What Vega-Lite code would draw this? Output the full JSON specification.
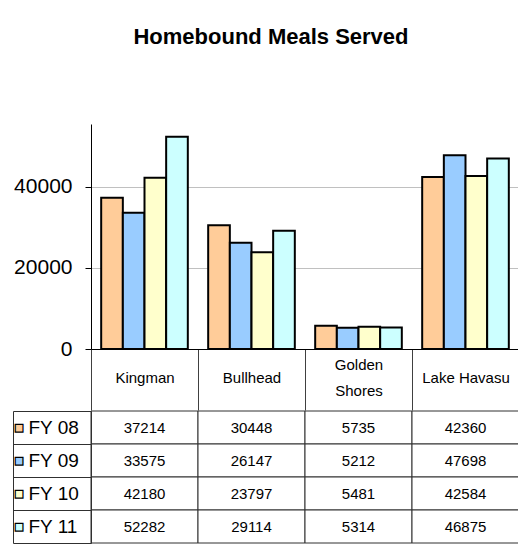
{
  "$schema": "https://vega.github.io/schema/vega-lite/v6.json",
  "autosize": {"type": "pad"},
  "padding": {"left": 12, "top": 26, "right": 0, "bottom": 0},
  "background": "white",
  "title": {"text": "Homebound Meals Served", "font": "Liberation Sans", "fontSize": 22, "fontWeight": "bold", "color": "black", "anchor": "middle", "offset": 75, "dx": 5},
  "config": {"font": "Liberation Sans", "view": {"stroke": null}, "concat": {"spacing": 0}},
  "datasets": {
    "meals": [
      {"city": "Kingman", "fy": "FY 08", "meals": 37214},
      {"city": "Kingman", "fy": "FY 09", "meals": 33575},
      {"city": "Kingman", "fy": "FY 10", "meals": 42180},
      {"city": "Kingman", "fy": "FY 11", "meals": 52282},
      {"city": "Bullhead", "fy": "FY 08", "meals": 30448},
      {"city": "Bullhead", "fy": "FY 09", "meals": 26147},
      {"city": "Bullhead", "fy": "FY 10", "meals": 23797},
      {"city": "Bullhead", "fy": "FY 11", "meals": 29114},
      {"city": "Golden Shores", "fy": "FY 08", "meals": 5735},
      {"city": "Golden Shores", "fy": "FY 09", "meals": 5212},
      {"city": "Golden Shores", "fy": "FY 10", "meals": 5481},
      {"city": "Golden Shores", "fy": "FY 11", "meals": 5314},
      {"city": "Lake Havasu", "fy": "FY 08", "meals": 42360},
      {"city": "Lake Havasu", "fy": "FY 09", "meals": 47698},
      {"city": "Lake Havasu", "fy": "FY 10", "meals": 42584},
      {"city": "Lake Havasu", "fy": "FY 11", "meals": 46875}
    ],
    "series": [
      {"fy": "FY 08"},
      {"fy": "FY 09"},
      {"fy": "FY 10"},
      {"fy": "FY 11"}
    ]
  },
  "spacing": -9,
  "resolve": {"scale": {"x": "independent", "y": "independent", "color": "independent"}},
  "vconcat": [
    {
      "width": 428,
      "height": 225,
      "data": {"name": "meals"},
      "mark": {"type": "bar", "stroke": "black", "strokeWidth": 2},
      "encoding": {
        "x": {
          "field": "city", "type": "nominal",
          "sort": ["Kingman", "Bullhead", "Golden Shores", "Lake Havasu"],
          "scale": {"paddingInner": 0, "paddingOuter": 0},
          "axis": {
            "title": null, "grid": false, "domainColor": "black", "domainWidth": 1,
            "tickBand": "extent", "tickSize": 61, "tickColor": "#404040", "tickWidth": 1,
            "labelPadding": {"condition": {"test": "datum.value == 'Golden Shores'", "value": -46}, "value": -32.5},
            "labelBaseline": "middle", "labelFontSize": 15, "labelColor": "black",
            "labelAngle": 0, "labelLineHeight": 26,
            "labelExpr": "datum.value == 'Golden Shores' ? ['Golden', 'Shores'] : datum.value"
          }
        },
        "xOffset": {
          "field": "fy", "type": "nominal",
          "sort": ["FY 08", "FY 09", "FY 10", "FY 11"],
          "scale": {"paddingInner": 0, "paddingOuter": 0.47}
        },
        "y": {
          "field": "meals", "type": "quantitative",
          "scale": {"domain": [0, 55400], "nice": false},
          "axis": {
            "title": null, "values": [0, 20000, 40000], "format": "d",
            "labelFontSize": 21, "labelColor": "black", "labelPadding": 13,
            "tickSize": 6, "tickColor": "black", "domainColor": "black",
            "gridColor": "#c0c0c0", "grid": true
          }
        },
        "color": {
          "field": "fy", "type": "nominal",
          "scale": {"domain": ["FY 08", "FY 09", "FY 10", "FY 11"], "range": ["#FFCC99", "#99CCFF", "#FFFFCC", "#CCFFFF"]},
          "legend": null
        }
      }
    },
    {
      "width": 428,
      "height": 132,
      "resolve": {"axis": {"y": "independent", "x": "independent"}},
      "layer": [
        {
          "data": {"name": "meals"},
          "mark": {"type": "rect", "fill": "white", "stroke": "#303030", "strokeWidth": 1},
          "encoding": {
            "x": {"field": "city", "type": "nominal", "sort": ["Kingman", "Bullhead", "Golden Shores", "Lake Havasu"], "scale": {"paddingInner": 0, "paddingOuter": 0}, "axis": null},
            "y": {
              "field": "fy", "type": "nominal", "sort": ["FY 08", "FY 09", "FY 10", "FY 11"],
              "scale": {"paddingInner": 0, "paddingOuter": 0},
              "axis": {
                "orient": "left", "title": null, "grid": false,
                "domain": true, "domainColor": "#303030",
                "ticks": true, "tickBand": "extent", "tickSize": 78, "tickColor": "#303030", "tickWidth": 1,
                "labelAlign": "left", "labelBaseline": "middle", "labelPadding": -15,
                "labelFontSize": 19, "labelColor": "black"
              }
            }
          }
        },
        {
          "data": {"name": "meals"},
          "mark": {"type": "text", "fontSize": 15, "color": "black"},
          "encoding": {
            "x": {"field": "city", "type": "nominal", "sort": ["Kingman", "Bullhead", "Golden Shores", "Lake Havasu"], "axis": null},
            "y": {"field": "fy", "type": "nominal", "sort": ["FY 08", "FY 09", "FY 10", "FY 11"], "axis": null},
            "text": {"field": "meals", "type": "quantitative", "format": "d"}
          }
        },
        {
          "data": {"name": "series"},
          "mark": {"type": "text", "text": "■", "fontSize": 16, "stroke": "black", "strokeWidth": 1.2, "align": "center", "dx": -125.5},
          "encoding": {
            "x": {"datum": "Kingman", "type": "nominal", "axis": null},
            "y": {
              "field": "fy", "type": "nominal", "sort": ["FY 08", "FY 09", "FY 10", "FY 11"],
              "axis": {
                "orient": "left", "offset": 78, "title": null, "grid": false,
                "domain": true, "domainColor": "#303030", "ticks": false, "labels": false
              }
            },
            "color": {
              "field": "fy", "type": "nominal",
              "scale": {"domain": ["FY 08", "FY 09", "FY 10", "FY 11"], "range": ["#FFCC99", "#99CCFF", "#FFFFCC", "#CCFFFF"]},
              "legend": null
            }
          }
        }
      ]
    }
  ]
}
